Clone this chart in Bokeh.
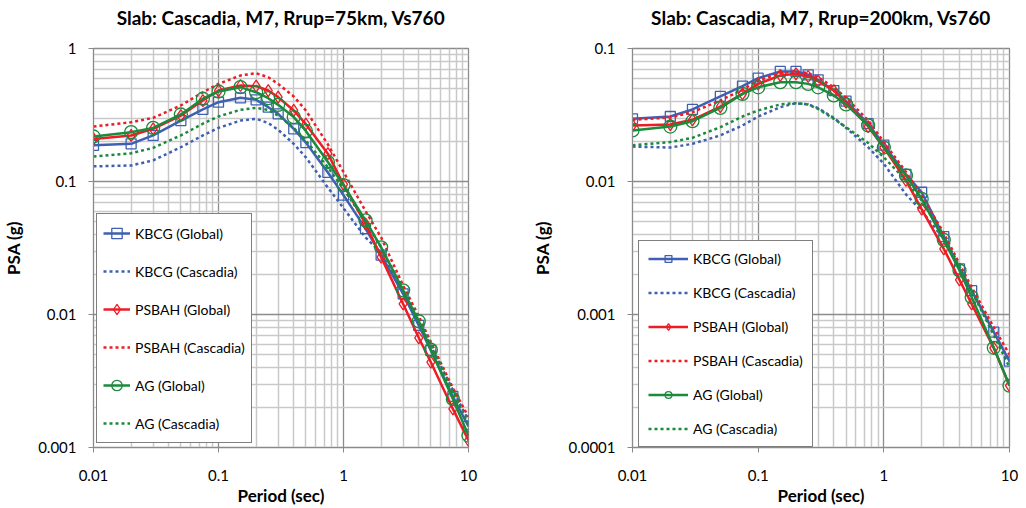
from bokeh.plotting import figure
from bokeh.models import (FixedTicker, CustomJSTickFormatter, Legend, LegendItem, Range1d, Title)
from bokeh.layouts import row
from bokeh.embed import file_html
from bokeh.resources import INLINE

periods = [0.01, 0.02, 0.03, 0.05, 0.075, 0.1, 0.15, 0.2, 0.25, 0.3, 0.4, 0.5,
           0.75, 1.0, 1.5, 2.0, 3.0, 4.0, 5.0, 7.5, 10.0]

# Rrup = 75 km
kbcg_glob_75 = [0.187, 0.192, 0.222, 0.287, 0.348, 0.395, 0.426, 0.411, 0.362, 0.323, 0.249, 0.196,
                0.117, 0.079, 0.0442, 0.028, 0.0143, 0.00827, 0.00537, 0.00242, 0.00144]
kbcg_casc_75 = [0.130, 0.132, 0.144, 0.181, 0.222, 0.253, 0.287, 0.296, 0.275, 0.245, 0.192, 0.152,
                0.090, 0.063, 0.038, 0.029, 0.0145, 0.0088, 0.0058, 0.0027, 0.0016]
psbah_glob_75 = [0.209, 0.222, 0.249, 0.313, 0.406, 0.483, 0.527, 0.521, 0.483, 0.431, 0.342, 0.270,
                 0.162, 0.095, 0.048, 0.027, 0.0120, 0.00668, 0.00438, 0.00195, 0.00113]
psbah_casc_75 = [0.259, 0.279, 0.301, 0.373, 0.469, 0.542, 0.627, 0.652, 0.608, 0.542, 0.436, 0.342,
                 0.190, 0.118, 0.060, 0.038, 0.0165, 0.0097, 0.0062, 0.0028, 0.0017]
ag_glob_75 = [0.218, 0.235, 0.253, 0.319, 0.419, 0.475, 0.512, 0.469, 0.423, 0.377, 0.305, 0.240,
              0.140, 0.094, 0.051, 0.032, 0.0152, 0.0089, 0.00543, 0.00232, 0.00123]
ag_casc_75 = [0.154, 0.163, 0.179, 0.222, 0.272, 0.308, 0.346, 0.358, 0.346, 0.313, 0.253, 0.203,
              0.128, 0.088, 0.050, 0.032, 0.0155, 0.0092, 0.0060, 0.0026, 0.0015]

# Rrup = 200 km
kbcg_glob_200 = [0.0296, 0.0308, 0.0348, 0.0436, 0.0521, 0.0598, 0.0672, 0.0672, 0.0634, 0.0581, 0.0483,
                 0.0402, 0.0272, 0.0188, 0.0113, 0.0083, 0.00385, 0.0022, 0.00151, 0.000736, 0.000446]
kbcg_casc_200 = [0.0183, 0.0180, 0.0192, 0.0222, 0.0264, 0.0308, 0.0362, 0.0388, 0.0380, 0.0356, 0.0301,
                 0.0253, 0.0181, 0.0136, 0.0080, 0.0060, 0.0037, 0.0022, 0.00150, 0.00074, 0.00044]
psbah_glob_200 = [0.0264, 0.0268, 0.0291, 0.0366, 0.0456, 0.0542, 0.0627, 0.0645, 0.0616, 0.0568, 0.0483,
                  0.0395, 0.0259, 0.0180, 0.0102, 0.0062, 0.00312, 0.00182, 0.00120, 0.000559, 0.000292]
psbah_casc_200 = [0.0291, 0.0303, 0.0332, 0.0407, 0.0489, 0.0574, 0.0652, 0.0675, 0.0652, 0.0608, 0.0511,
                  0.0426, 0.0288, 0.0198, 0.0118, 0.0078, 0.0041, 0.0024, 0.0016, 0.00080, 0.00050]
ag_glob_200 = [0.0242, 0.0259, 0.0284, 0.0358, 0.0456, 0.0511, 0.0558, 0.0558, 0.0542, 0.0511, 0.0444,
               0.0380, 0.0264, 0.0180, 0.0111, 0.0074, 0.00364, 0.00214, 0.00135, 0.000562, 0.000292]
ag_casc_200 = [0.0187, 0.0198, 0.0213, 0.0256, 0.0308, 0.0342, 0.0380, 0.0388, 0.0380, 0.0351, 0.0296,
               0.0256, 0.0195, 0.0152, 0.0102, 0.0072, 0.0039, 0.0023, 0.00150, 0.00070, 0.00040]

labels = ["KBCG (Global)", "KBCG (Cascadia)", "PSBAH (Global)", "PSBAH (Cascadia)",
          "AG (Global)", "AG (Cascadia)"]

BLUE = "#3F60B2"
RED = "#EE1C24"
GREEN = "#1B8A3C"
FONT = "Lato"

fmt = CustomJSTickFormatter(code="return String(parseFloat(tick.toPrecision(4)));")


def panel(title, ylo, yhi, data, width, min_left, min_right, leg_loc, leg_pad, leg_glyph_w,
          leg_label_h, leg_spacing, ylab_standoff):
    p = figure(width=width, height=508, x_axis_type="log", y_axis_type="log",
               x_range=Range1d(0.01, 10), y_range=Range1d(ylo, yhi),
               output_backend="svg", toolbar_location=None,
               min_border_left=min_left, min_border_right=min_right,
               min_border_top=48, min_border_bottom=61)
    # spacer (nearest to the frame) then the real title above it
    spacer = Title(text=" ", text_font=FONT, text_font_size="12px", standoff=0)
    p.add_layout(spacer, "above")
    t = Title(text=title, align="center", text_font=FONT, text_font_style="bold",
              text_font_size="19px", text_color="#000000", standoff=6)
    p.add_layout(t, "above")

    xt = [0.01, 0.1, 1, 10]
    yt = []
    e = ylo
    while e <= yhi * 1.0001:
        yt.append(e)
        e *= 10
    xminor = [m * d for d in [0.01, 0.1, 1] for m in range(2, 10)]
    yminor = [m * d for d in yt[:-1] for m in range(2, 10)]
    p.xaxis.ticker = FixedTicker(ticks=xt, minor_ticks=xminor)
    p.yaxis.ticker = FixedTicker(ticks=yt, minor_ticks=yminor)
    for ax in (p.xaxis[0], p.yaxis[0]):
        ax.formatter = fmt
        ax.major_tick_in = 0
        ax.major_tick_out = 5
        ax.minor_tick_in = 0
        ax.minor_tick_out = 0
        ax.axis_line_color = "#8a8a8a"
        ax.major_tick_line_color = "#8a8a8a"
        ax.major_label_text_font = FONT
        ax.major_label_text_font_size = "15px"
        ax.major_label_text_color = "#000000"
        ax.axis_label_text_font = FONT
        ax.axis_label_text_font_style = "bold"
        ax.axis_label_text_font_size = "17px"
        ax.axis_label_text_color = "#000000"
    p.xaxis.axis_label = "Period (sec)"
    p.yaxis.axis_label = "PSA (g)"
    p.xaxis.major_label_standoff = 17
    p.xaxis.axis_label_standoff = 1
    p.yaxis.major_label_standoff = 12
    p.yaxis.axis_label_standoff = ylab_standoff

    for g in (p.xgrid[0], p.ygrid[0]):
        g.grid_line_color = "#8c8c8c"
        g.grid_line_width = 1.3
        g.minor_grid_line_color = "#c9c9c9"
        g.minor_grid_line_width = 1.5
    p.outline_line_color = "#8c8c8c"
    p.outline_line_width = 1.3

    kg, kc, pg, pc, ag, ac = data
    # KBCG
    l1 = p.line(periods, kg, line_color=BLUE, line_width=2.5)
    s1 = p.scatter(periods, kg, marker="square", size=10, fill_color=None,
                   line_color=BLUE, line_width=1.3)
    l2 = p.line(periods, kc, line_color=BLUE, line_width=2.5, line_dash="3 3")
    # PSBAH
    l3 = p.line(periods, pg, line_color=RED, line_width=2.5)
    s3 = p.scatter(periods, pg, marker="diamond", size=12, fill_color=None,
                   line_color=RED, line_width=1.3)
    l4 = p.line(periods, pc, line_color=RED, line_width=2.5, line_dash="3 3")
    # AG
    l5 = p.line(periods, ag, line_color=GREEN, line_width=2.5)
    s5 = p.scatter(periods, ag, marker="circle", size=13, fill_color=None,
                   line_color=GREEN, line_width=1.3)
    l6 = p.line(periods, ac, line_color=GREEN, line_width=2.5, line_dash="3 3")

    items = [LegendItem(label=labels[0], renderers=[l1, s1]),
             LegendItem(label=labels[1], renderers=[l2]),
             LegendItem(label=labels[2], renderers=[l3, s3]),
             LegendItem(label=labels[3], renderers=[l4]),
             LegendItem(label=labels[4], renderers=[l5, s5]),
             LegendItem(label=labels[5], renderers=[l6])]
    leg = Legend(items=items, location=leg_loc)
    leg.padding = leg_pad
    leg.margin = 0
    leg.spacing = leg_spacing
    leg.glyph_width = leg_glyph_w
    leg.glyph_height = leg_label_h
    leg.label_height = leg_label_h
    leg.label_standoff = 5
    leg.label_text_font = FONT
    leg.label_text_font_size = "14px"
    leg.label_text_color = "#000000"
    leg.border_line_color = "#000000"
    leg.border_line_width = 1
    leg.background_fill_color = "white"
    leg.background_fill_alpha = 1.0
    p.add_layout(leg, "center")
    return p


p1 = panel("Slab: Cascadia, M7, Rrup=75km, Vs760", 0.001, 1,
           (kbcg_glob_75, kbcg_casc_75, psbah_glob_75, psbah_casc_75, ag_glob_75, ag_casc_75),
           518, 92, 50, (3, 4), 6, 27, 26, 12, 11)
p2 = panel("Slab: Cascadia, M7, Rrup=200km, Vs760", 0.0001, 0.1,
           (kbcg_glob_200, kbcg_casc_200, psbah_glob_200, psbah_casc_200, ag_glob_200, ag_casc_200),
           503, 114, 12, (6, 0), 9, 40, 17, 17, 12)

layout = row(p1, p2)
open("out.html", "w").write(file_html(layout, INLINE))
